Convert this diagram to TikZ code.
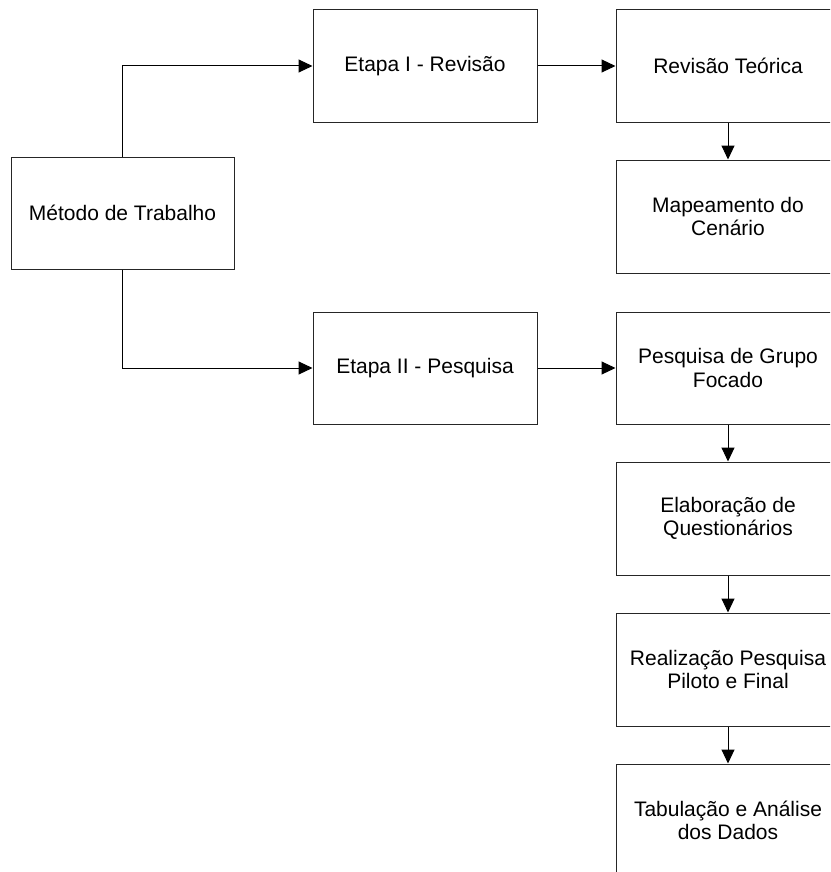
\documentclass[tikz,border=0pt]{standalone}
\usepackage{fontspec}
\setmainfont{Liberation Sans}
\usetikzlibrary{arrows.meta}
\begin{document}
\begin{tikzpicture}[x=1pt,y=-1pt,
  box/.style={draw=black!85,line width=1pt,fill=white,minimum width=224pt,minimum height=113pt,
    inner sep=0pt,align=center,font=\fontsize{21}{23.5}\selectfont},
  conn/.style={draw=black,line width=1pt,-{Triangle[length=14pt,width=13pt]}}]
\useasboundingbox (0,0) rectangle (830,872);
\clip (0,0) rectangle (830,872);
\fill[white] (0,0) rectangle (830,872);
\node[box,minimum width=223pt,minimum height=112pt] (metodo) at (122.5,213) {Método de Trabalho};
\node[box] (etapa1) at (425,66) {Etapa I - Revisão};
\node[box,minimum height=112pt] (etapa2) at (425,368) {Etapa II - Pesquisa};
\node[box] (revteo) at (728,66) {Revisão Teórica};
\node[box] (mapeam) at (728,216.5) {Mapeamento do\\Cenário};
\node[box,minimum height=112pt] (pesq) at (728,368) {Pesquisa de Grupo\\Focado};
\node[box] (elab) at (728,518.5) {Elaboração de\\Questionários};
\node[box] (real) at (728,669.5) {Realização Pesquisa\\Piloto e Final};
\node[box] (tab) at (728,820.5) {Tabulação e Análise\\dos Dados};
\draw[conn] (metodo.north) |- (etapa1.west);
\draw[conn] (metodo.south) |- (etapa2.west);
\draw[conn] (etapa1.east) -- (revteo.west);
\draw[conn] (etapa2.east) -- (pesq.west);
\draw[conn] (revteo.south) -- (mapeam.north);
\draw[conn] (pesq.south) -- (elab.north);
\draw[conn] (elab.south) -- (real.north);
\draw[conn] (real.south) -- (tab.north);
\end{tikzpicture}
\end{document}
